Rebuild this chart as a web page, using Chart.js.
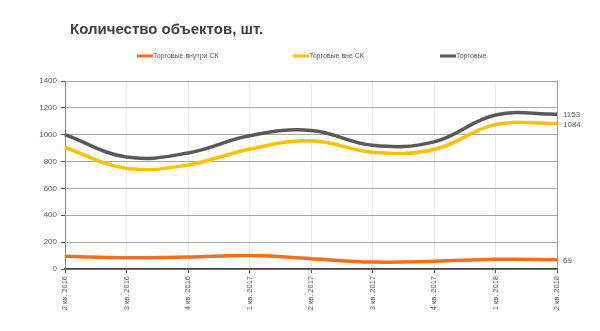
<!DOCTYPE html>
<html>
<head>
<meta charset="utf-8">
<script src="https://cdn.jsdelivr.net/npm/chart.js@4"></script>
<style>
  html, body { margin: 0; padding: 0; background: #fff; }
  #wrap { width: 600px; height: 331px; }
</style>
</head>
<body>
<div id="wrap"><canvas id="chart"></canvas></div>
<script>
// Quarters on the x axis
const quarters = ['2 кв. 2016', '3 кв. 2016', '4 кв. 2016', '1 кв. 2017', '2 кв. 2017', '3 кв. 2017', '4 кв. 2017', '1 кв. 2018', '2 кв. 2018'];

// Number of objects per quarter
const insideSC = [95, 84, 89, 100, 77, 52, 57, 72, 69];
const outsideSC = [905, 750, 775, 892, 955, 870, 890, 1075, 1084];
const totalAll = [1000, 834, 864, 992, 1032, 922, 947, 1147, 1153];

const seriesNames = ['Торговые внутри СК', 'Торговые вне СК', 'Торговые'];
const seriesColors = ['#f07020', '#ffc000', '#595959'];
const yTicks = [0, 200, 400, 600, 800, 1000, 1200, 1400];

const FONT = 'Liberation Sans, Arial, sans-serif';

// Title, legend and last-value labels drawn by hand
const decorations = {
    id: 'decorations',
    afterDraw(chart) {
        const ctx = chart.ctx;
        const area = chart.chartArea;
        ctx.save();

        ctx.fillStyle = '#404040';
        ctx.font = 'bold 15px ' + FONT;
        ctx.textBaseline = 'middle';
        ctx.textAlign = 'left';
        ctx.fillText('Количество объектов, шт.', 70, 30);

        const legendX = [137, 293, 440];
        ctx.font = '7px ' + FONT;
        chart.data.datasets.forEach((ds, i) => {
            ctx.fillStyle = ds.borderColor;
            ctx.fillRect(legendX[i], 54.5, 16, 3);
            ctx.fillStyle = '#595959';
            ctx.fillText(ds.label, legendX[i] + 16, 56);
        });

        ctx.font = '8px ' + FONT;
        ctx.fillStyle = '#595959';
        chart.data.datasets.forEach((ds, i) => {
            const pts = chart.getDatasetMeta(i).data;
            const last = pts[pts.length - 1];
            const val = ds.data[ds.data.length - 1];
            ctx.fillText(String(val), area.right + 6, last.y + 1);
        });
        ctx.restore();
    }
};

new Chart(document.getElementById('chart'), {
    type: 'line',
    data: {
        labels: quarters,
        datasets: [insideSC, outsideSC, totalAll].map((values, i) => ({
            label: seriesNames[i],
            data: values,
            borderColor: seriesColors[i],
            backgroundColor: seriesColors[i],
            borderWidth: 3.5,
            pointRadius: 0,
            tension: 0.4,
            fill: false
        }))
    },
    options: {
        responsive: true,
        maintainAspectRatio: false,
        animation: false,
        layout: { padding: { top: 81, right: 43, left: 20, bottom: 10 } },
        plugins: {
            legend: { display: false },
            title: { display: false },
            tooltip: { enabled: false }
        },
        scales: {
            x: {
                offset: false,
                grid: {
                    color: (c) => c.index === quarters.length - 1 ? '#9a9a9a' : '#ececec',
                    tickColor: '#555',
                    tickLength: 4
                },
                border: { color: '#404040', width: 1.5 },
                ticks: {
                    color: '#595959',
                    font: { family: FONT, size: 7.5 },
                    maxRotation: 90,
                    minRotation: 90,
                    padding: 3,
                    autoSkip: false
                },
                afterFit: (s) => { s.height = 52; }
            },
            y: {
                min: 0,
                max: 1400,
                afterBuildTicks: (s) => { s.ticks = yTicks.map(v => ({ value: v })); },
                grid: {
                    color: '#a6a6a6',
                    tickColor: '#555',
                    tickLength: 4
                },
                border: { color: '#8a8a8a', width: 1 },
                ticks: {
                    color: '#595959',
                    font: { family: FONT, size: 8 },
                    padding: 4,
                    callback: (v) => String(v)
                },
                afterFit: (s) => { s.width = 45; }
            }
        }
    },
    plugins: [decorations]
});
</script>
</body>
</html>
